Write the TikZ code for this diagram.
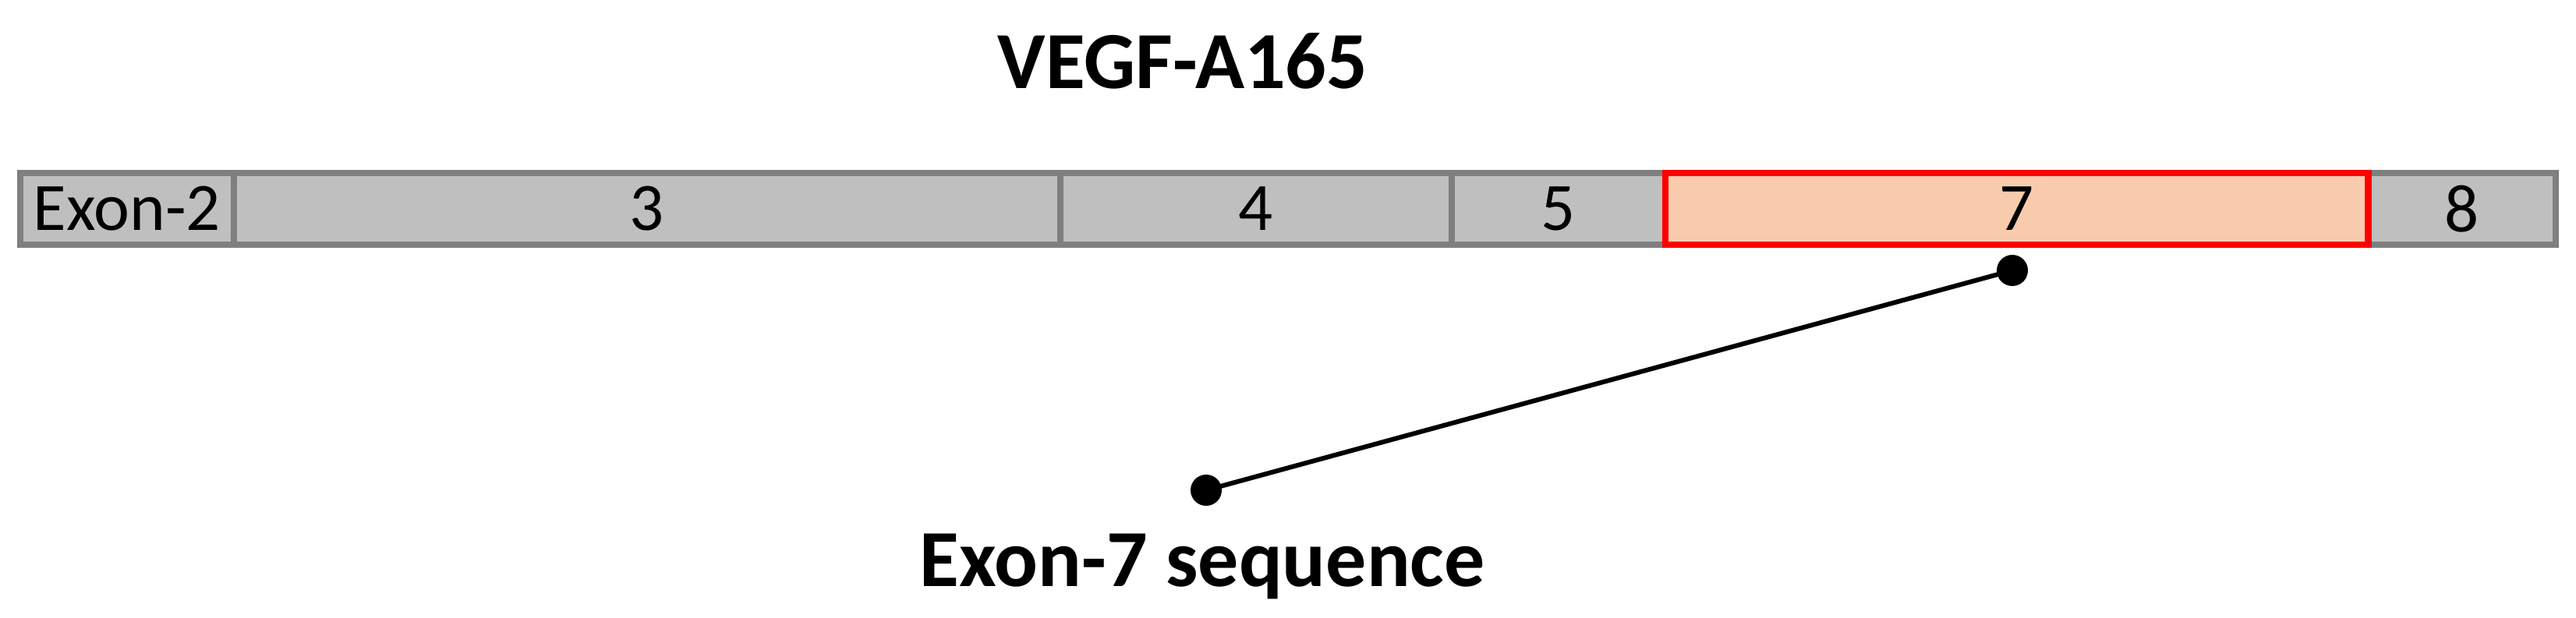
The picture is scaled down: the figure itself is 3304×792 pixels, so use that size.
\documentclass[tikz,border=0pt]{standalone}
\usepackage{fontspec}
\setmainfont{Carlito}
\definecolor{cellgray}{HTML}{BFBFBF}
\definecolor{bordergray}{HTML}{7F7F7F}
\definecolor{peach}{HTML}{F8CBAD}
\definecolor{exred}{HTML}{FF0000}
\begin{document}
\begin{tikzpicture}[x=0.25pt,y=-0.25pt,
  cell/.style={draw=bordergray, fill=cellgray, line width=2pt, rectangle,
    minimum height=23pt, inner sep=0pt, outer sep=0pt,
    font=\fontsize{21.75pt}{26pt}\selectfont},
  redcell/.style={cell, draw=exred, fill=peach, line width=2.15pt},
  dot/.style={circle, fill=black, minimum size=10pt, inner sep=0pt},
  conn/.style={line width=1.5pt, black},
  title/.style={font=\fontsize{26pt}{31pt}\selectfont\bfseries, anchor=base, inner sep=0pt}
]
\useasboundingbox (0,0) rectangle (3304,792);
\node[title] (ttl) at (1517,113) {VEGF-A165};
\node[cell, minimum width=68.5pt] (e2) at (163,268) {Exon-2};
\node[cell, minimum width=265pt] (e3) at (830,268) {3};
\node[cell, minimum width=125.5pt] (e4) at (1611,268) {4};
\node[cell, minimum width=68.5pt] (e5) at (1999,268) {5};
\node[cell, minimum width=60.125pt] (e8) at (3157.75,268) {8};
\node[redcell, minimum width=225.375pt] (e7) at (2586.75,268) {7};
\node[dot] (p1) at (2581,347) {};
\node[dot] (p2) at (1547,629) {};
\draw[conn] (p1.center) -- (p2.center);
\node[title] (lbl) at (1542,752) {Exon-7 sequence};
\end{tikzpicture}
\end{document}
